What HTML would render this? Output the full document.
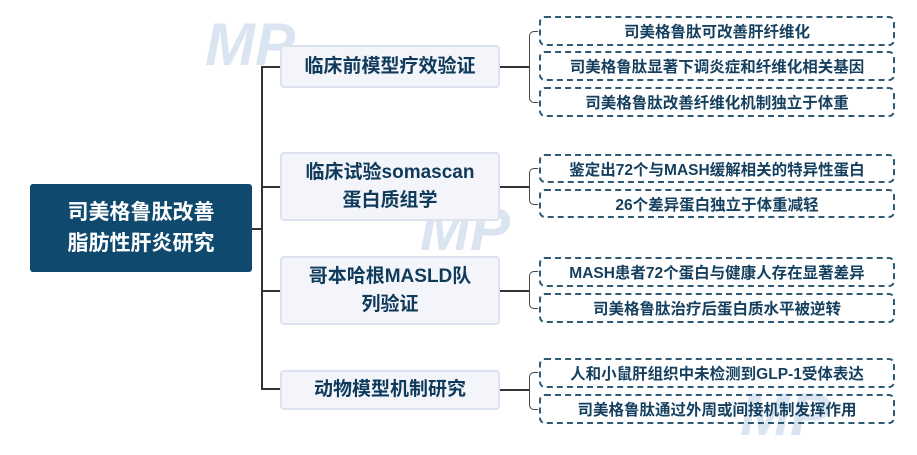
<!DOCTYPE html>
<html><head><meta charset="utf-8"><style>
body{margin:0;width:917px;height:455px;background:#fff;position:relative;overflow:hidden;font-family:"Liberation Sans","Noto Sans CJK SC",sans-serif;font-weight:bold}
.b{position:absolute;display:flex;align-items:center;justify-content:center;text-align:center;box-sizing:border-box}
.root{left:30px;top:184px;width:222px;height:88px;background:#0f4a6e;color:#fff;font-size:21px;line-height:31px;border-radius:3px}
.mid{left:280px;width:220px;background:#f3f5fb;border:2px solid #dde3ee;border-radius:4px;color:#0f3a5a;font-size:19px;line-height:28px}
.r{left:539px;width:356px;border:2px dashed #2f5a75;border-radius:6px;color:#153f5e;font-size:15.5px}
.l{position:absolute;background:#333}
.br{position:absolute;border:1.5px solid #444;border-right:none;border-radius:5px 0 0 5px;width:8px}
.wm{position:absolute;color:#dbe5f2;font-style:italic;font-size:60px;font-weight:bold}
</style></head><body>
<div class="wm" style="left:205px;top:10px">MP</div>
<div class="wm" style="left:420px;top:195px">MP</div>
<div class="wm" style="left:740px;top:380px">MP</div>
<div class="b root">司美格鲁肽改善<br>脂肪性肝炎研究</div>
<div class="l" style="left:252px;top:228px;width:10px;height:2px"></div>
<div class="l" style="left:261px;top:67px;width:2px;height:322px"></div>
<div class="l" style="left:261px;top:66px;width:19px;height:2px"></div>
<div class="l" style="left:261px;top:186px;width:19px;height:2px"></div>
<div class="l" style="left:261px;top:290px;width:19px;height:2px"></div>
<div class="l" style="left:261px;top:388px;width:19px;height:2px"></div>
<div class="b mid" style="top:45px;height:43px">临床前模型疗效验证</div>
<div class="b mid" style="top:152px;height:69px">临床试验somascan<br>蛋白质组学</div>
<div class="b mid" style="top:256px;height:69px">哥本哈根MASLD队<br>列验证</div>
<div class="b mid" style="top:370px;height:40px">动物模型机制研究</div>
<div class="l" style="left:500px;top:66px;width:29px;height:2px"></div>
<div class="l" style="left:500px;top:186px;width:29px;height:2px"></div>
<div class="l" style="left:500px;top:290px;width:29px;height:2px"></div>
<div class="l" style="left:500px;top:389px;width:29px;height:2px"></div>
<div class="br" style="left:529px;top:31px;height:70px"></div>
<div class="br" style="left:529px;top:168px;height:35px"></div>
<div class="br" style="left:529px;top:271px;height:36px"></div>
<div class="br" style="left:529px;top:372px;height:36px"></div>
<div class="b r" style="top:16px;height:30px">司美格鲁肽可改善肝纤维化</div>
<div class="b r" style="top:51px;height:30px">司美格鲁肽显著下调炎症和纤维化相关基因</div>
<div class="b r" style="top:87px;height:30px">司美格鲁肽改善纤维化机制独立于体重</div>
<div class="b r" style="top:154px;height:29px">鉴定出72个与MASH缓解相关的特异性蛋白</div>
<div class="b r" style="top:189px;height:29px">26个差异蛋白独立于体重减轻</div>
<div class="b r" style="top:257px;height:30px">MASH患者72个蛋白与健康人存在显著差异</div>
<div class="b r" style="top:293px;height:30px">司美格鲁肽治疗后蛋白质水平被逆转</div>
<div class="b r" style="top:358px;height:30px">人和小鼠肝组织中未检测到GLP-1受体表达</div>
<div class="b r" style="top:394px;height:30px">司美格鲁肽通过外周或间接机制发挥作用</div>
</body></html>
